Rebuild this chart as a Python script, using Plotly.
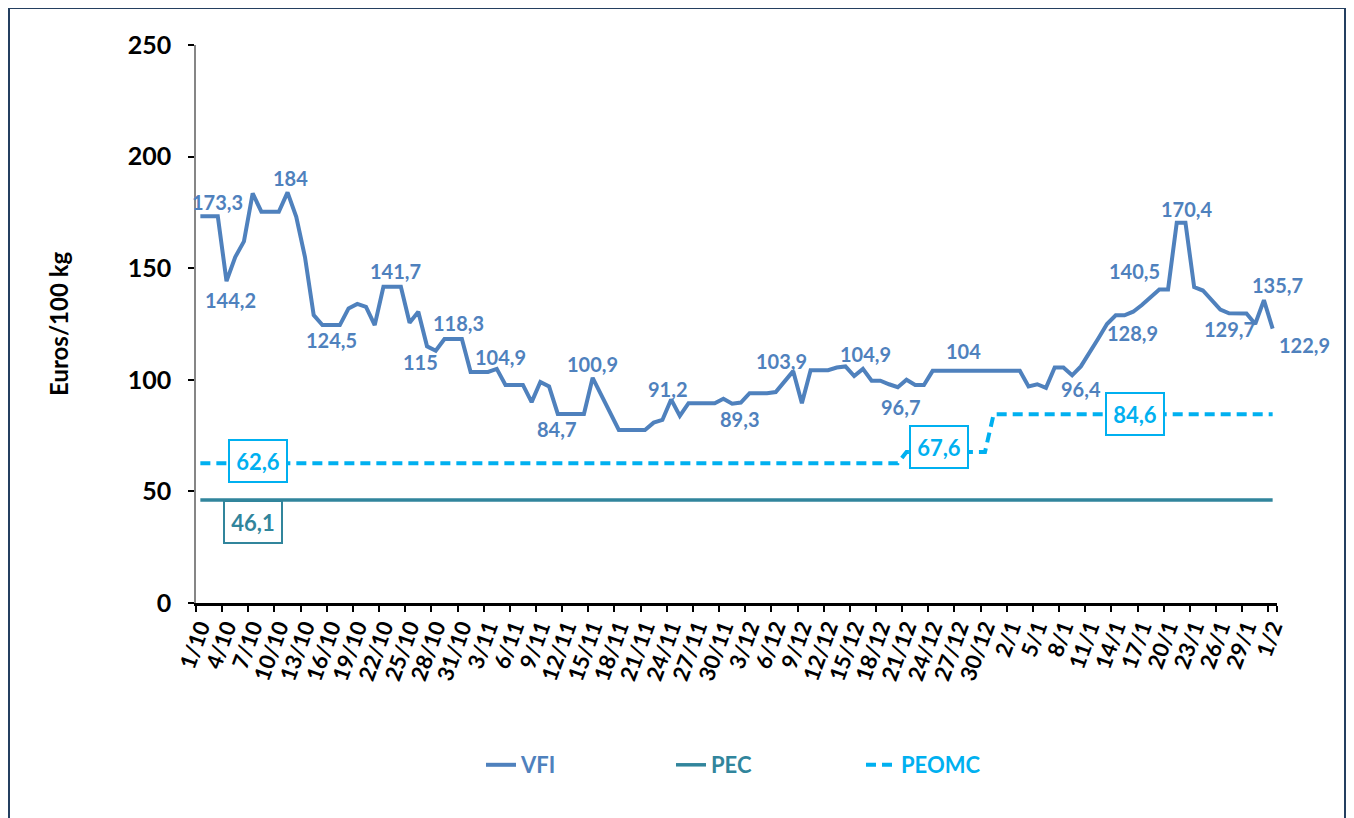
import datetime
import plotly.graph_objects as go

# ---------------- data ----------------
START = datetime.date(2012, 10, 1)
N_DAYS = 124  # 1/10 .. 1/2
DATES = [f"{(START + datetime.timedelta(days=i)).day}/{(START + datetime.timedelta(days=i)).month}"
         for i in range(N_DAYS)]

VFI = [
    173.3, 173.3, 173.3, 144.2, 155, 162, 183.5, 175.3, 175.3, 175.3,
    184, 173, 155, 129, 124.5, 124.5, 124.5, 132, 134, 132.7,
    124.5, 141.7, 141.7, 141.7, 125.6, 130.5, 115, 113, 118.3, 118.3,
    118.3, 103.5, 103.5, 103.5, 104.9, 97.7, 97.7, 97.7, 90, 99,
    97, 84.7, 84.7, 84.7, 84.7, 100.9, 93.1, 85.3, 77.5, 77.5,
    77.5, 77.5, 80.8, 82, 91.2, 83.8, 89.5, 89.5, 89.5, 89.5,
    91.5, 89.3, 89.8, 94, 94, 94, 94.5, 99, 103.9, 89.5,
    104.3, 104.3, 104.3, 105.5, 106, 101.7, 104.9, 99.6, 99.6, 98,
    96.7, 100, 97.7, 97.7, 104, 104, 104, 104, 104, 104,
    104, 104, 104, 104, 104, 97, 98, 96.4, 105.5, 105.5,
    102, 106, 112, 118.5, 125, 128.9, 128.9, 130.5, 133.5, 137,
    140.5, 140.5, 170.4, 170.4, 141.5, 140, 136, 131.5, 129.8, 129.7,
    129.7, 125, 135.7, 122.9,
]
PEC = [46.1] * N_DAYS
PEOMC = [62.6] * 81 + [67.6] * 10 + [84.6] * 33

SERIES_NAMES = ["VFI", "PEC", "PEOMC"]

# indices of VFI points carrying a data label
VFI_LABEL_IDX = [2, 3, 10, 15, 22, 26, 29, 34, 42, 45, 54, 61, 68, 76, 80, 88, 97,
                 106, 110, 113, 119, 122, 123]
# indices where PEC / PEOMC values are labelled
PEC_LABEL_IDX = [6]
PEOMC_LABEL_IDX = [7, 85, 107]

Y_TICKS = [0, 50, 100, 150, 200, 250]

# ---------------- styles ----------------
BLUE = "#4F81BD"
TEAL = "#31859C"
CYAN = "#00B0F0"
FONT = "Lato"

# page offset of the figure (browser body margin)
OFF = 8
W, H = 1354 - OFF, 818 - OFF
PL, PR, PT, PB = 196, 1277, 45, 603   # plot area in page pixels
PW, PH = PR - PL, PB - PT


def px_x(p):  # page px -> paper x
    return (p - PL) / PW


def px_y(p):  # page px -> paper y
    return (PB - p) / PH


# label offsets (px): (xshift, yshift)
VFI_LABEL_SHIFT = [(0, 14), (4, -19), (3, 14), (0, -15), (3, 16), (-7, -16), (5, 16),
                   (4, 12), (-10, -15), (0, 14), (-4, 10), (7, -15), (-12, 10), (3, 15),
                   (3, -20), (-4, 20), (35, -1), (8, -18), (-25, 18), (1, 14), (-8, -15),
                   (14, 15), (32, -16)]
PEC_LABEL_SHIFT = [(0, -22)]
PEOMC_LABEL_SHIFT = [(-3, 2), (-2, 5), (2, 0)]


def fmt(v):
    return f"{v:g}".replace(".", ",")


fig = go.Figure()
fig.add_trace(go.Scatter(
    x=DATES, y=VFI, mode="lines",
    name=f'<span style="color:{BLUE}">{SERIES_NAMES[0]}</span>',
    line=dict(color=BLUE, width=4)))
fig.add_trace(go.Scatter(
    x=DATES, y=PEC, mode="lines",
    name=f'<span style="color:{TEAL}">{SERIES_NAMES[1]}</span>',
    line=dict(color=TEAL, width=3.5)))
fig.add_trace(go.Scatter(
    x=DATES, y=PEOMC, mode="lines",
    name=f'<span style="color:{CYAN}">{SERIES_NAMES[2]}</span>',
    line=dict(color=CYAN, width=4, dash="10px,6px")))

annotations = []
for i, (dx, dy) in zip(VFI_LABEL_IDX, VFI_LABEL_SHIFT):
    annotations.append(dict(
        x=DATES[i], y=VFI[i], text=fmt(VFI[i]), showarrow=False,
        xshift=dx, yshift=dy,
        font=dict(family=FONT, size=20, color=BLUE, weight="bold")))
for i, (dx, dy) in zip(PEC_LABEL_IDX, PEC_LABEL_SHIFT):
    annotations.append(dict(
        x=DATES[i], y=PEC[i], text=fmt(PEC[i]), showarrow=False,
        xshift=dx, yshift=dy, width=54, height=38,
        bgcolor="white", bordercolor=TEAL, borderwidth=2,
        font=dict(family=FONT, size=22, color=TEAL, weight="bold")))
for i, (dx, dy) in zip(PEOMC_LABEL_IDX, PEOMC_LABEL_SHIFT):
    annotations.append(dict(
        x=DATES[i], y=PEOMC[i], text=fmt(PEOMC[i]), showarrow=False,
        xshift=dx, yshift=dy, width=54, height=38,
        bgcolor="white", bordercolor=CYAN, borderwidth=2,
        font=dict(family=FONT, size=22, color=CYAN, weight="bold")))

# y axis title
annotations.append(dict(
    xref="paper", yref="paper", x=px_x(58), y=0.5,
    xanchor="center", yanchor="middle",
    text="Euros/100 kg", textangle=-90, showarrow=False,
    font=dict(family=FONT, size=24, color="black", weight="bold")))

fig.update_layout(
    width=W, height=H,
    margin=dict(l=PL - OFF, r=W - (PR - OFF), t=PT - OFF, b=H - (PB - OFF)),
    paper_bgcolor="white", plot_bgcolor="white",
    annotations=annotations,
    showlegend=True,
    legend=dict(orientation="h", x=px_x(481), y=px_y(765),
                xanchor="left", yanchor="middle",
                font=dict(family=FONT, size=22, weight="bold"),
                entrywidth=145, itemwidth=30),
    shapes=[dict(type="rect", xref="paper", yref="paper",
                 x0=px_x(9), x1=px_x(1345), y0=px_y(830), y1=px_y(8),
                 line=dict(color="#243F60", width=2), layer="below")],
)
fig.update_xaxes(
    type="category", range=[-0.5, N_DAYS - 0.5],
    tickmode="array", tickvals=DATES[::3], ticktext=DATES[::3],
    tickson="boundaries",
    ticks="outside", ticklen=6, tickwidth=1.5, tickcolor="black",
    showline=True, linecolor="black", linewidth=2.5,
    tickangle=-70, showgrid=False,
    tickfont=dict(family=FONT, size=22, color="black", weight="bold"))
fig.update_yaxes(
    range=[0, 250], tickmode="array", tickvals=Y_TICKS,
    ticks="outside", ticklen=6, tickwidth=1.5, tickcolor="black",
    showline=True, linecolor="#868686", linewidth=1.5,
    showgrid=False, zeroline=False, ticklabelstandoff=12,
    tickfont=dict(family=FONT, size=25, color="black", weight="bold"))

fig.write_html("out.html")
